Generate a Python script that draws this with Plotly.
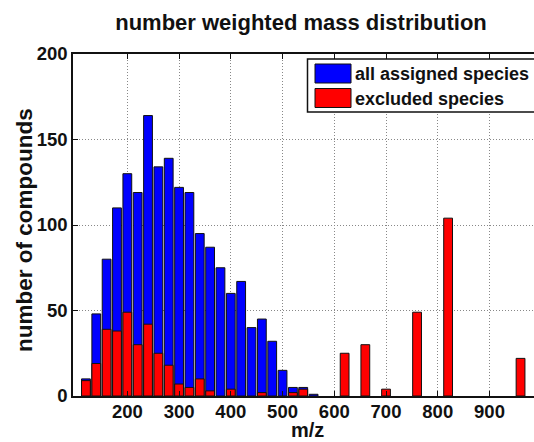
import plotly.graph_objects as go

title_text = "number weighted mass distribution"
x_label = "m/z"
y_label = "number of compounds"

blue_mz = [120, 140, 160, 180, 200, 220, 240, 260, 280, 300, 320, 340, 360, 380,
           400, 420, 440, 460, 480, 500, 520, 540, 560]
blue_counts = [10, 48, 80, 110, 130, 119, 164, 134, 139, 122, 119, 95, 87, 75,
               60, 67, 40, 45, 32, 15, 5, 5, 1]

red_mz = [120, 140, 160, 180, 200, 220, 240, 260, 280, 300, 320, 340, 360, 400,
          460, 520, 540, 620, 660, 700, 760, 820, 960]
red_counts = [9, 19, 39, 38, 49, 30, 42, 25, 18, 7, 5, 10, 3, 4,
              2, 2, 4, 25, 30, 4, 49, 104, 22]

series_names = ["all assigned species", "excluded species"]
series_colors = ["#0000FF", "#FF0000"]

x_ticks = [200, 300, 400, 500, 600, 700, 800, 900]
y_ticks = [0, 50, 100, 150, 200]

FONT = "Liberation Sans, Arial, sans-serif"
W, H = 534, 442
L, R, T, B = 73, 0, 54, 46
PW, PH = W - L - R, H - T - B


def px(x):
    return (x - L) / PW


def py(y):
    return (H - B - y) / PH


fig = go.Figure()
for mz, cnt, nm, col in [(blue_mz, blue_counts, series_names[0], series_colors[0]),
                         (red_mz, red_counts, series_names[1], series_colors[1])]:
    fig.add_trace(go.Bar(x=mz, y=cnt, name=nm, width=17, showlegend=False,
                         marker=dict(color=col, line=dict(color="#111111", width=1))))

# manual legend (matlab style)
shapes = [dict(type="rect", xref="paper", yref="paper",
               x0=px(307.5), x1=px(545), y0=py(112), y1=py(59),
               line=dict(color="#111111", width=1.5), fillcolor="white", layer="above")]
annotations = []
for i, (nm, col) in enumerate(zip(series_names, series_colors)):
    top = 64 + i * 24.5
    shapes.append(dict(type="rect", xref="paper", yref="paper",
                       x0=px(315), x1=px(351), y0=py(top + 19), y1=py(top),
                       line=dict(color="#111111", width=1), fillcolor=col, layer="above"))
    annotations.append(dict(xref="paper", yref="paper", x=px(353), y=py(top + 10),
                            xanchor="left", yanchor="middle", showarrow=False,
                            text="<b>" + nm + "</b>",
                            font=dict(size=18, family=FONT, color="#111111")))

annotations.append(dict(xref="paper", yref="paper", x=px(307.5), y=py(442),
                        xanchor="center", yanchor="bottom", showarrow=False, borderpad=0,
                        text="<b>" + x_label + "</b>",
                        font=dict(size=20, family=FONT, color="#111111")))
annotations.append(dict(xref="paper", yref="paper", x=px(24), y=py(230),
                        xanchor="center", yanchor="middle", showarrow=False, textangle=-90,
                        text="<b>" + y_label + "</b>",
                        font=dict(size=22.5, family=FONT, color="#111111")))

fig.update_layout(
    width=W, height=H,
    margin=dict(l=L, r=R, t=T, b=B),
    barmode="overlay",
    plot_bgcolor="white", paper_bgcolor="white",
    font=dict(family=FONT, color="#111111"),
    title=dict(text="<b>" + title_text + "</b>", x=301 / W, xanchor="center",
               y=1 - 22 / H, yanchor="middle", font=dict(size=22, family=FONT)),
    showlegend=False,
    shapes=shapes,
    annotations=annotations,
    xaxis=dict(range=[95, 986], tickvals=x_ticks,
               ticktext=["<b>%d</b>" % v for v in x_ticks],
               tickfont=dict(size=18.5), ticks="inside", ticklen=5, tickcolor="#111111",
               ticklabelstandoff=-2,
               showline=True, linecolor="#111111", linewidth=1.5, mirror="ticks",
               showgrid=True, gridcolor="#888888", griddash="1px,2px", gridwidth=1,
               zeroline=False),
    yaxis=dict(range=[0, 200], tickvals=y_ticks,
               ticktext=["<b>%d</b>" % v for v in y_ticks],
               tickfont=dict(size=18.5), ticks="inside", ticklen=5, tickcolor="#111111",
               showline=True, linecolor="#111111", linewidth=1.5, mirror=False,
               showgrid=True, gridcolor="#888888", griddash="1px,2px", gridwidth=1,
               zeroline=False),
)

fig.write_html("out.html")
